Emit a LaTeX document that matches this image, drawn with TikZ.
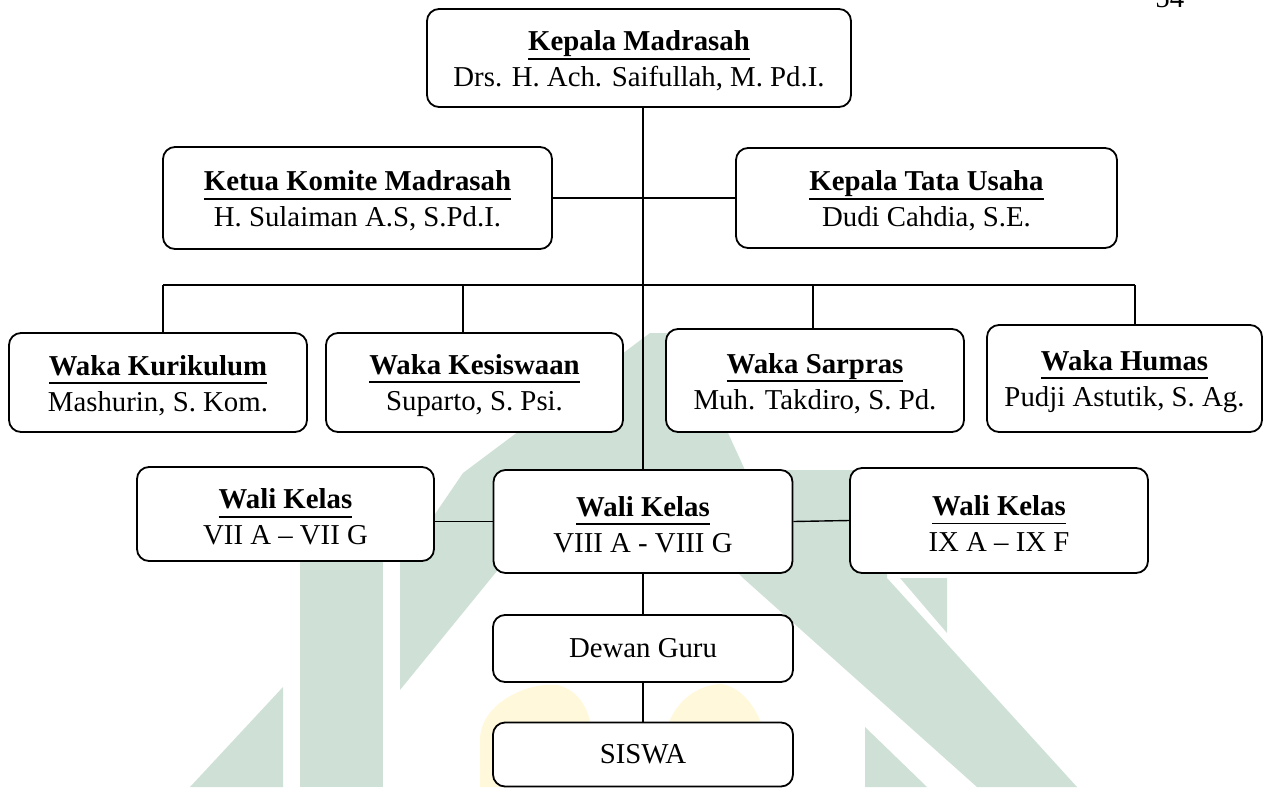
\documentclass[tikz,border=0pt]{standalone}
\usepackage{fontspec}
\setmainfont{Liberation Serif}
\usepackage{tikz}
\definecolor{wm_green}{RGB}{207,225,215}
\definecolor{wm_yellow}{RGB}{255,248,218}
\newcommand\ttl[1]{\rule{0pt}{13pt}\textbf{\setbox0\hbox{#1}\rlap{\rule[-4.4pt]{\wd0}{0.9pt}}\box0}}

\begin{document}
\begin{tikzpicture}[x=0.5pt,y=-0.5pt,
	org_box/.style={draw,fill=white,rounded corners=6pt,line width=0.9pt,inner sep=0pt,align=center,font=\fontsize{14.4}{18}\selectfont},
	link/.style={line width=0.7pt}]

		\useasboundingbox (0,0) rectangle (1273,787);
		\clip (0,0) rectangle (1273,787);
		\fill[white] (0,0) rectangle (1273,787);

		\fill[wm_green] (190,787) -- (283,687) -- (283,787) -- cycle;
		\fill[wm_green] (300,787) -- (300,545) -- (383,545) -- (383,787) -- cycle;
		\fill[wm_green] (400,690) -- (400,560) -- (433,517) -- (463,473) -- (650,333) -- (682,333) -- (745,470) -- (860,470) -- (860,555) -- (510,555) -- cycle;
		\fill[wm_green] (720,555) -- (887,555) -- (887,578) -- (1077,787) -- (977,787) -- (743,578) -- cycle;
		\fill[wm_green] (900,578) -- (947,578) -- (947,633) -- cycle;
		\fill[wm_green] (865,727) -- (865,787) -- (927,787) -- cycle;
		\fill[wm_yellow] (480,787) -- (480,740) .. controls (480,705) and (525,682) .. (557,685) .. controls (580,690) and (592,712) .. (592,740) -- (592,787) -- cycle;
		\fill[wm_yellow] (665,787) -- (665,735) .. controls (672,702) and (698,684) .. (722,684) .. controls (742,688) and (758,708) .. (765,735) -- (765,787) -- cycle;

		\node[font=\fontsize{14.4}{18}\selectfont,anchor=base west,inner sep=0pt] (hal) at (1155,8) {54};

		\node[org_box,minimum width=212pt,minimum height=49pt] (kepala) at (639,58) {\ttl{Kepala Madrasah}\\Drs. H. Ach. Saifullah, M. Pd.I.};
		\node[org_box,minimum width=194.5pt,minimum height=51pt] (komite) at (357.5,198) {\ttl{Ketua Komite Madrasah}\\H. Sulaiman A.S, S.Pd.I.};
		\node[org_box,minimum width=190.5pt,minimum height=50pt] (tu) at (926.5,198) {\ttl{Kepala Tata Usaha}\\Dudi Cahdia, S.E.};

		\node[org_box,minimum width=149pt,minimum height=49.5pt] (kurikulum) at (158,382.5) {\ttl{Waka Kurikulum}\\Mashurin, S. Kom.};
		\node[org_box,minimum width=148.5pt,minimum height=49.5pt] (kesiswaan) at (474.5,382.5) {\ttl{Waka Kesiswaan}\\Suparto, S. Psi.};
		\node[org_box,minimum width=149pt,minimum height=51.5pt] (sarpras) at (815,380.5) {\ttl{Waka Sarpras}\\Muh. Takdiro, S. Pd.};
		\node[org_box,minimum width=137.5pt,minimum height=53.5pt] (humas) at (1124.5,378.5) {\ttl{Waka Humas}\\Pudji Astutik, S. Ag.};

		\node[org_box,minimum width=148.5pt,minimum height=47pt] (wali7) at (285.5,514) {\ttl{Wali Kelas}\\VII A -- VII G};
		\node[org_box,minimum width=149.5pt,minimum height=51.5pt] (wali8) at (643,521.5) {\ttl{Wali Kelas}\\VIII A - VIII G};
		\node[org_box,minimum width=149pt,minimum height=52.5pt] (wali9) at (999,520.5) {\ttl{Wali Kelas}\\IX A -- IX F};

		\node[org_box,minimum width=150pt,minimum height=33.5pt] (dewan) at (643,648.5) {Dewan Guru};
		\node[org_box,minimum width=150pt,minimum height=32pt] (siswa) at (643,754.5) {SISWA};

		\coordinate (bus_a) at (163,285);
		\coordinate (bus_b) at (463,285);
		\coordinate (bus_c) at (813,285);
		\coordinate (bus_d) at (1135,285);

		\draw[link] (wali8.north |- kepala.south) -- (wali8.north);
		\draw[link] (komite.east) -- (tu.west);
		\draw[link] (bus_a) -- (bus_d);
		\draw[link] (bus_a) -- (bus_a |- kurikulum.north);
		\draw[link] (bus_b) -- (bus_b |- kesiswaan.north);
		\draw[link] (bus_c) -- (bus_c |- sarpras.north);
		\draw[link] (bus_d) -- (bus_d |- humas.north);
		\draw[link] (wali7.east |- wali8.west) -- (wali8.west);
		\draw[link] (wali8.east) -- (wali9.west);
		\draw[link] (wali8.south) -- (dewan.north);
		\draw[link] (dewan.south) -- (siswa.north);
		\end{tikzpicture}
\end{document}
